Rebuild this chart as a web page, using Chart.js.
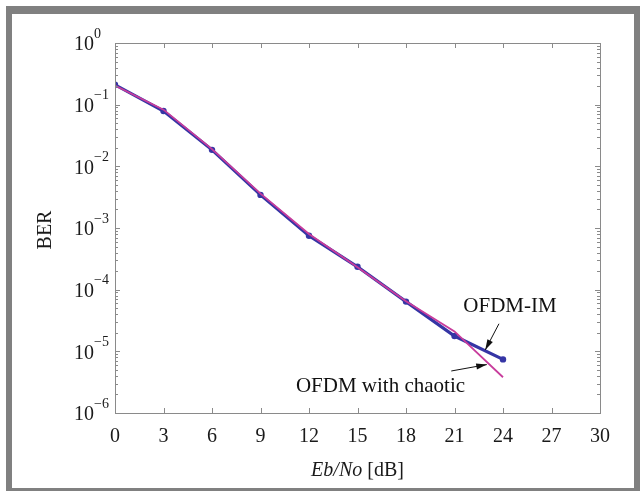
<!DOCTYPE html>
<html>
<head>
<meta charset="utf-8">
<script src="https://cdn.jsdelivr.net/npm/chart.js@4"></script>
<style>
  html, body { margin:0; padding:0; background:#fff; }
  #wrap { width:640px; height:491px; position:relative; }
</style>
</head>
<body>
<div id="wrap"><canvas id="c" width="640" height="491"></canvas></div>
<script>
// ---- data ----
const ebno = [0, 3, 6, 9, 12, 15, 18, 21, 24];
const berIM = [0.21, 0.079, 0.0185, 0.00344, 0.00075, 0.000235, 0.000064, 0.0000177, 0.0000074];
const berChaotic = [0.205, 0.083, 0.019, 0.0036, 0.0008, 0.00023, 0.000065, 0.000021, 0.0000038];
const xTicks = [0, 3, 6, 9, 12, 15, 18, 21, 24, 27, 30];
const yExps = [0, -1, -2, -3, -4, -5, -6];

const FONT = "'Liberation Serif', 'Times New Roman', serif";
const AXIS = '#8a8a8a';
const TXT = '#1a1a1a';

// annotation labels (data coordinates)
const notes = [
  { text:'OFDM-IM', x:24.43, y:4.35e-5, align:'center', ax0:[23.75, 2.8e-5], ax1:[22.9, 1.05e-5] },
  { text:'OFDM with chaotic', x:11.19, y:2.2e-6, align:'left', ax0:[20.8, 4.8e-6], ax1:[23.0, 6.1e-6] }
];

const framePlugin = {
  id:'frame',
  beforeDraw(chart) {
    const c = chart.ctx;
    c.save();
    c.fillStyle = '#fff'; c.fillRect(0, 0, 640, 491);
    c.fillStyle = '#808080'; c.fillRect(6, 6, 634, 485);
    c.fillStyle = '#fff'; c.fillRect(12, 14, 622, 474);
    c.restore();
  },
  afterDraw(chart) {
    const c = chart.ctx, a = chart.chartArea;
    const xs = chart.scales.x, ys = chart.scales.y;
    c.save();
    // box
    c.strokeStyle = AXIS; c.lineWidth = 1;
    c.strokeRect(a.left + 0.5, a.top + 0.5, a.right - a.left, a.bottom - a.top);
    // x ticks (inside, top and bottom)
    c.beginPath();
    xTicks.forEach(v => {
      const px = Math.round(xs.getPixelForValue(v)) + 0.5;
      c.moveTo(px, a.bottom); c.lineTo(px, a.bottom - 5);
      c.moveTo(px, a.top); c.lineTo(px, a.top + 5);
    });
    // y major + minor ticks
    for (let e = -6; e <= 0; e++) {
      for (let m = 1; m <= 9; m++) {
        const v = m * Math.pow(10, e);
        if (v > 1.0001) break;
        const py = Math.round(ys.getPixelForValue(v)) + 0.5;
        const len = m === 1 ? 5 : 3;
        c.moveTo(a.left, py); c.lineTo(a.left + len, py);
        c.moveTo(a.right, py); c.lineTo(a.right - len, py);
      }
    }
    c.stroke();

    // y tick labels 10^n
    c.fillStyle = TXT;
    yExps.forEach(e => {
      const py = ys.getPixelForValue(Math.pow(10, e));
      c.font = '20px ' + FONT;
      c.textAlign = 'right'; c.textBaseline = 'middle';
      c.fillText('10', 94, py + 2);
      c.font = '14px ' + FONT;
      c.textAlign = 'left';
      c.fillText(e === 0 ? '0' : '\u2212' + (-e), 94, py - 9);
    });

    // axis titles
    c.font = '20px ' + FONT;
    c.textBaseline = 'middle';
    c.save();
    c.translate(46, 230); c.rotate(-Math.PI / 2);
    c.textAlign = 'center';
    c.fillText('BER', 0, 0);
    c.restore();
    const it = 'italic 20px ' + FONT, rm = '20px ' + FONT;
    c.font = it; const w1 = c.measureText('Eb/No').width;
    c.font = rm; const w2 = c.measureText(' [dB]').width;
    let sx = (a.left + a.right) / 2 - (w1 + w2) / 2;
    c.textAlign = 'left';
    c.font = it; c.fillText('Eb/No', sx, 471);
    c.font = rm; c.fillText(' [dB]', sx + w1, 471);

    // annotations
    c.font = '21px ' + FONT;
    c.textBaseline = 'alphabetic';
    c.strokeStyle = '#111'; c.fillStyle = '#111'; c.lineWidth = 1;
    notes.forEach(n => {
      c.textAlign = n.align;
      c.fillText(n.text, xs.getPixelForValue(n.x), ys.getPixelForValue(n.y));
      const x0 = xs.getPixelForValue(n.ax0[0]), y0 = ys.getPixelForValue(n.ax0[1]);
      const x1 = xs.getPixelForValue(n.ax1[0]), y1 = ys.getPixelForValue(n.ax1[1]);
      const ang = Math.atan2(y1 - y0, x1 - x0);
      c.beginPath(); c.moveTo(x0, y0); c.lineTo(x1, y1); c.stroke();
      c.beginPath();
      c.moveTo(x1, y1);
      c.lineTo(x1 - 11 * Math.cos(ang - 0.28), y1 - 11 * Math.sin(ang - 0.28));
      c.lineTo(x1 - 11 * Math.cos(ang + 0.28), y1 - 11 * Math.sin(ang + 0.28));
      c.closePath(); c.fill();
    });
    c.restore();
  }
};

new Chart(document.getElementById('c'), {
  type: 'line',
  data: {
    datasets: [
      { label:'OFDM with chaotic', data: ebno.map((x, i) => ({ x, y: berChaotic[i] })),
        borderColor:'#c83c9c', borderWidth:1.8, pointRadius:0, tension:0, order:0 },
      { label:'OFDM-IM', data: ebno.map((x, i) => ({ x, y: berIM[i] })),
        borderColor:'#3535a5', backgroundColor:'#3535a5', borderWidth:3.2,
        pointRadius:3.2, pointBorderWidth:0, tension:0, order:1 }
    ]
  },
  options: {
    responsive:false, animation:false, devicePixelRatio:1,
    layout:{ padding:{ left:0, top:43, right:40, bottom:0 } },
    plugins:{ legend:{ display:false }, tooltip:{ enabled:false } },
    scales:{
      x:{ type:'linear', min:0, max:30,
        afterFit: s => { s.height = 78; },
        afterBuildTicks: s => { s.ticks = xTicks.map(v => ({ value:v })); },
        grid:{ display:false, drawTicks:false }, border:{ display:false },
        ticks:{ font:{ family:FONT, size:20 }, color:TXT, padding:12, maxRotation:0 } },
      y:{ type:'logarithmic', min:1e-6, max:1,
        afterFit: s => { s.width = 115; },
        grid:{ display:false, drawTicks:false }, border:{ display:false },
        ticks:{ display:false } }
    }
  },
  plugins:[framePlugin]
});
</script>
</body>
</html>
